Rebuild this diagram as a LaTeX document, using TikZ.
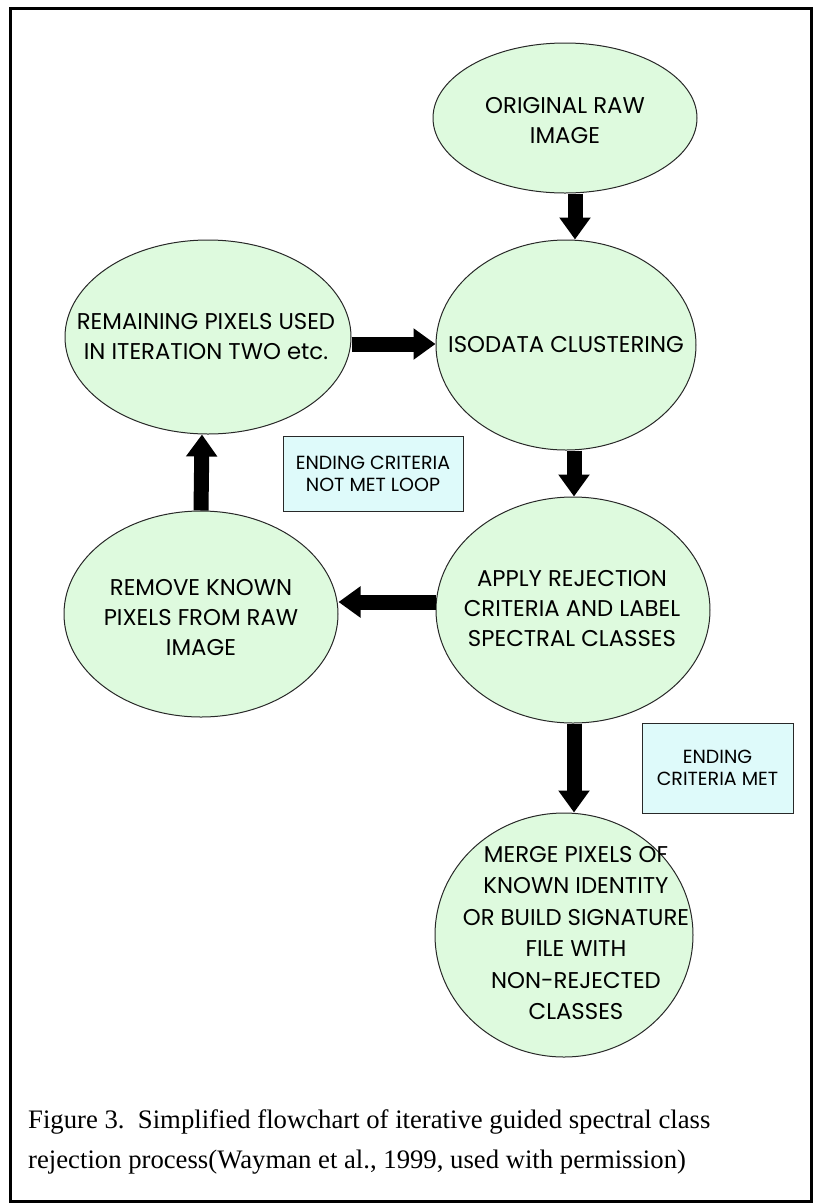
\documentclass[tikz,border=0pt]{standalone}
\usepackage{fontspec}
\setmainfont{Liberation Serif}
\newfontfamily\gothic{Poppins}
\usetikzlibrary{arrows.meta,shapes.geometric}
\definecolor{ellfill}{RGB}{222,250,222}
\definecolor{boxfill}{RGB}{222,250,250}
\definecolor{edgegray}{RGB}{40,40,40}
\begin{document}
\begin{tikzpicture}[x=1pt,y=-1pt,
  ell/.style={ellipse,draw=edgegray,line width=1pt,fill=ellfill,inner sep=0pt},
  lbl/.style={font=\gothic\fontsize{22.8}{30}\selectfont,align=center,inner sep=0pt},
  notebox/.style={draw=edgegray,line width=1pt,fill=boxfill,inner sep=0pt,align=center,
    font=\gothic\fontsize{19}{22}\selectfont},
  blockarrow/.style={line width=15pt,-{Triangle[width=30pt,length=22pt]}},
  captext/.style={font=\fontsize{26.7}{40}\selectfont,inner sep=0pt,anchor=base west}]
\useasboundingbox (0,0) rectangle (813,1203);
\draw[line width=3pt] (10,8.5) rectangle (811.5,1201.5);

% ellipses
\node[ell,minimum width=264pt,minimum height=150pt] (orig) at (565,118) {};
\node[ell,minimum width=260pt,minimum height=210pt] (iso) at (566,345) {};
\node[ell,minimum width=286pt,minimum height=194pt] (remain) at (208,337) {};
\node[ell,minimum width=274pt,minimum height=206pt] (remove) at (201,614) {};
\node[ell,minimum width=274pt,minimum height=226pt] (apply) at (573,610) {};
\node[ell,minimum width=258pt,minimum height=244pt] (merge) at (564,935) {};

% labels
\node[lbl] (origT) at (565,121) {ORIGINAL RAW\\IMAGE};
\node[lbl] (isoT) at (566,345) {ISODATA CLUSTERING};
\node[lbl] (remainT) at (206,337) {REMAINING PIXELS USED\\IN ITERATION TWO etc.};
\node[lbl] (removeT) at (201,618) {REMOVE KNOWN\\PIXELS FROM RAW\\IMAGE};
\node[lbl] (applyT) at (572,609) {APPLY REJECTION\\CRITERIA AND LABEL\\SPECTRAL CLASSES};
\node[lbl,font=\gothic\fontsize{22.8}{31.5}\selectfont] (mergeT) at (576,933) {MERGE PIXELS OF\\KNOWN IDENTITY\\OR BUILD SIGNATURE\\FILE WITH\\NON-REJECTED\\CLASSES};

% notes
\node[notebox,minimum width=180pt,minimum height=75pt] (loopbox) at (373,473.5) {ENDING CRITERIA\\NOT MET LOOP};
\node[notebox,minimum width=151pt,minimum height=90pt] (metbox) at (717.5,768) {ENDING\\CRITERIA MET};

% arrows
\draw[blockarrow] ([xshift=10pt]orig.south) -- ([xshift=9pt]iso.north);
\draw[blockarrow] ([xshift=8pt]iso.south) -- ([xshift=1pt]apply.north);
\draw[blockarrow] ([yshift=-7pt]remain.east) -- ([yshift=1pt]iso.west);
\draw[blockarrow] ([yshift=8pt]apply.west) -- ([yshift=12pt]remove.east);
\draw[blockarrow] (remove.north) -- ([xshift=-6pt]remain.south);
\draw[blockarrow] ([xshift=1pt]apply.south) -- ([xshift=10pt]merge.north);

% caption
\node[captext] (cap1) at (28,1128) {Figure 3.\ \ Simplified flowchart of iterative guided spectral class};
\node[captext] (cap2) at (28,1168) {rejection process(Wayman et al., 1999, used with permission)};
\end{tikzpicture}
\end{document}
